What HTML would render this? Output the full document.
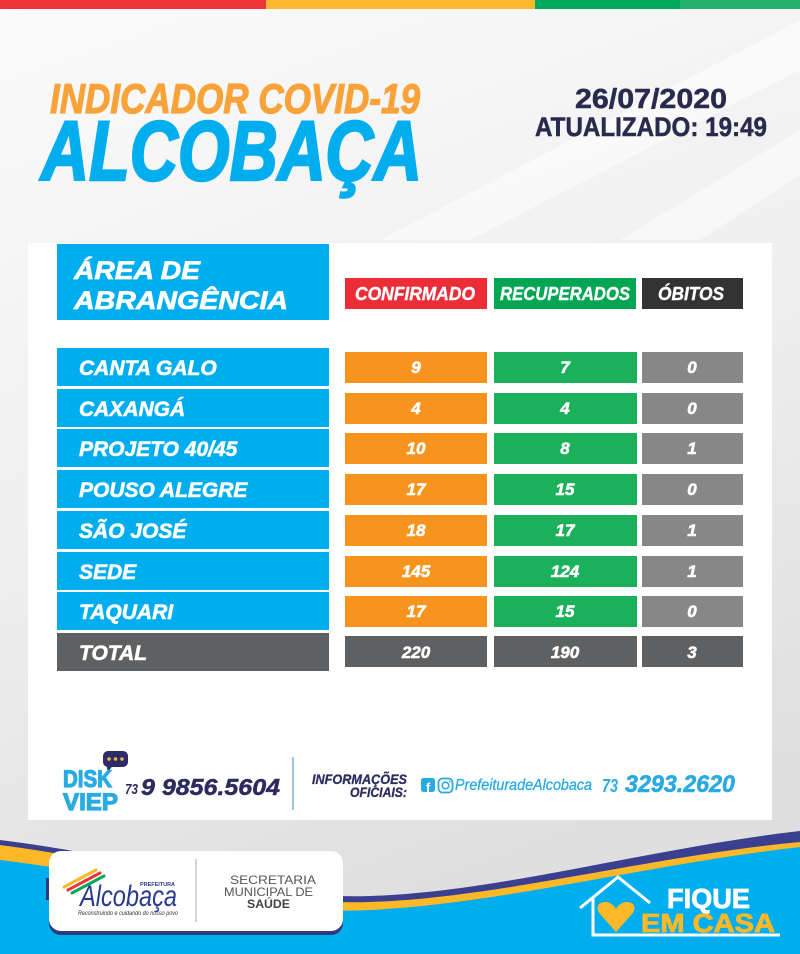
<!DOCTYPE html>
<html><head><meta charset="utf-8"><style>
html,body{margin:0;padding:0;background:#eee;}
svg{display:block;}
text{font-family:"Liberation Sans",Arial,sans-serif;}
</style></head><body>
<svg width="800" height="954" viewBox="0 0 800 954" xmlns="http://www.w3.org/2000/svg">
<defs>
<linearGradient id="bg" x1="0" y1="0" x2="0.3" y2="1">
<stop offset="0" stop-color="#fbfbfb"/><stop offset="0.5" stop-color="#f0f0f0"/><stop offset="1" stop-color="#e0dfdf"/>
</linearGradient>
</defs>
<rect x="0" y="0" width="800" height="954" fill="url(#bg)"/>
<polygon points="380,240 800,20 800,70 470,240" fill="#ffffff" opacity="0.5"/>
<polygon points="620,240 800,130 800,175 700,240" fill="#ffffff" opacity="0.5"/>
<!-- top stripes -->
<rect x="0" y="0" width="266" height="9" fill="#ee3438"/>
<rect x="266" y="0" width="269" height="9" fill="#fdb92e"/>
<rect x="535" y="0" width="265" height="9" fill="#00a859"/>
<rect x="680" y="0" width="120" height="9" fill="#26b070"/>
<!-- titles -->
<text x="50" y="113" font-size="42" font-weight="bold" font-style="italic" fill="#f8a33a" stroke="#f8a33a" stroke-width="1.2" textLength="370" lengthAdjust="spacingAndGlyphs">INDICADOR COVID-19</text>
<text x="41" y="180" font-size="84" font-weight="bold" font-style="italic" fill="#00aeef" stroke="#00aeef" stroke-width="2.5" textLength="381" lengthAdjust="spacingAndGlyphs">ALCOBAÇA</text>
<text x="575" y="108" font-size="28" font-weight="bold" fill="#2b2a4e" stroke="#2b2a4e" stroke-width="0.5" textLength="152" lengthAdjust="spacingAndGlyphs">26/07/2020</text>
<text x="535" y="136" font-size="27" font-weight="bold" fill="#2b2a4e" stroke="#2b2a4e" stroke-width="0.5" textLength="232" lengthAdjust="spacingAndGlyphs">ATUALIZADO: 19:49</text>
<!-- panel -->
<rect x="28" y="243" width="744" height="577" fill="#ffffff"/>
<!-- header -->
<rect x="57" y="244" width="272" height="76" fill="#00aeef"/>
<g stroke="#fff" stroke-width="0.7">
<text x="74" y="279" font-size="25" font-weight="bold" font-style="italic" fill="#fff" textLength="126" lengthAdjust="spacingAndGlyphs">ÁREA DE</text>
<text x="74" y="309" font-size="25" font-weight="bold" font-style="italic" fill="#fff" textLength="214" lengthAdjust="spacingAndGlyphs">ABRANGÊNCIA</text>
</g>
<rect x="345" y="278" width="142" height="31" fill="#ec2d38"/>
<rect x="494" y="278" width="142" height="31" fill="#00a651"/>
<rect x="642" y="278" width="101" height="31" fill="#333333"/>
<g stroke="#fff" stroke-width="0.4">
<text x="355" y="300" font-size="18" font-weight="bold" font-style="italic" fill="#fff" textLength="120" lengthAdjust="spacingAndGlyphs">CONFIRMADO</text>
<text x="500" y="300" font-size="18" font-weight="bold" font-style="italic" fill="#fff" textLength="130" lengthAdjust="spacingAndGlyphs">RECUPERADOS</text>
<text x="658" y="300" font-size="18" font-weight="bold" font-style="italic" fill="#fff" textLength="66" lengthAdjust="spacingAndGlyphs">ÓBITOS</text>
</g>
<!-- rows -->
<g font-weight="bold" font-style="italic" fill="#fff">
<rect x="57" y="348" width="272" height="38" fill="#00aeef"/>
<rect x="345" y="352" width="142" height="31" fill="#f7941e"/><rect x="494" y="352" width="143" height="31" fill="#1bb05a"/><rect x="642" y="352" width="101" height="31" fill="#878787"/>
<rect x="57" y="389" width="272" height="38" fill="#00aeef"/>
<rect x="345" y="393" width="142" height="31" fill="#f7941e"/><rect x="494" y="393" width="143" height="31" fill="#1bb05a"/><rect x="642" y="393" width="101" height="31" fill="#878787"/>
<rect x="57" y="429" width="272" height="38" fill="#00aeef"/>
<rect x="345" y="433" width="142" height="31" fill="#f7941e"/><rect x="494" y="433" width="143" height="31" fill="#1bb05a"/><rect x="642" y="433" width="101" height="31" fill="#878787"/>
<rect x="57" y="470" width="272" height="38" fill="#00aeef"/>
<rect x="345" y="474" width="142" height="31" fill="#f7941e"/><rect x="494" y="474" width="143" height="31" fill="#1bb05a"/><rect x="642" y="474" width="101" height="31" fill="#878787"/>
<rect x="57" y="511" width="272" height="38" fill="#00aeef"/>
<rect x="345" y="515" width="142" height="31" fill="#f7941e"/><rect x="494" y="515" width="143" height="31" fill="#1bb05a"/><rect x="642" y="515" width="101" height="31" fill="#878787"/>
<rect x="57" y="552" width="272" height="38" fill="#00aeef"/>
<rect x="345" y="556" width="142" height="31" fill="#f7941e"/><rect x="494" y="556" width="143" height="31" fill="#1bb05a"/><rect x="642" y="556" width="101" height="31" fill="#878787"/>
<rect x="57" y="592" width="272" height="38" fill="#00aeef"/>
<rect x="345" y="596" width="142" height="31" fill="#f7941e"/><rect x="494" y="596" width="143" height="31" fill="#1bb05a"/><rect x="642" y="596" width="101" height="31" fill="#878787"/>
<rect x="57" y="633" width="272" height="38" fill="#5f6062"/>
<rect x="345" y="636" width="142" height="31" fill="#5f6062"/><rect x="494" y="636" width="143" height="31" fill="#5f6062"/><rect x="642" y="636" width="101" height="31" fill="#5f6062"/>
</g>
<g font-weight="bold" font-style="italic" fill="#fff" stroke="#fff" stroke-width="0.6">
<text x="79" y="375" font-size="21">CANTA GALO</text>
<text x="416" y="373" font-size="17" text-anchor="middle">9</text><text x="565" y="373" font-size="17" text-anchor="middle">7</text><text x="692" y="373" font-size="17" text-anchor="middle">0</text>
<text x="79" y="416" font-size="21">CAXANGÁ</text>
<text x="416" y="414" font-size="17" text-anchor="middle">4</text><text x="565" y="414" font-size="17" text-anchor="middle">4</text><text x="692" y="414" font-size="17" text-anchor="middle">0</text>
<text x="79" y="456" font-size="21">PROJETO 40/45</text>
<text x="416" y="454" font-size="17" text-anchor="middle">10</text><text x="565" y="454" font-size="17" text-anchor="middle">8</text><text x="692" y="454" font-size="17" text-anchor="middle">1</text>
<text x="79" y="497" font-size="21">POUSO ALEGRE</text>
<text x="416" y="495" font-size="17" text-anchor="middle">17</text><text x="565" y="495" font-size="17" text-anchor="middle">15</text><text x="692" y="495" font-size="17" text-anchor="middle">0</text>
<text x="79" y="538" font-size="21">SÃO JOSÉ</text>
<text x="416" y="536" font-size="17" text-anchor="middle">18</text><text x="565" y="536" font-size="17" text-anchor="middle">17</text><text x="692" y="536" font-size="17" text-anchor="middle">1</text>
<text x="79" y="579" font-size="21">SEDE</text>
<text x="416" y="577" font-size="17" text-anchor="middle">145</text><text x="565" y="577" font-size="17" text-anchor="middle">124</text><text x="692" y="577" font-size="17" text-anchor="middle">1</text>
<text x="79" y="619" font-size="21">TAQUARI</text>
<text x="416" y="617" font-size="17" text-anchor="middle">17</text><text x="565" y="617" font-size="17" text-anchor="middle">15</text><text x="692" y="617" font-size="17" text-anchor="middle">0</text>
<text x="79" y="660" font-size="21">TOTAL</text>
<text x="416" y="658" font-size="17" text-anchor="middle">220</text><text x="565" y="658" font-size="17" text-anchor="middle">190</text><text x="692" y="658" font-size="17" text-anchor="middle">3</text>
</g>
<!-- footer info -->
<rect x="103" y="751" width="25" height="16" rx="5" fill="#2e2b6b"/>
<polygon points="106,764 114,764 108,772" fill="#2e2b6b"/>
<circle cx="109" cy="759" r="1.8" fill="#f9b52a"/><circle cx="115.5" cy="759" r="1.8" fill="#f9b52a"/><circle cx="122" cy="759" r="1.8" fill="#f9b52a"/>
<text x="63" y="787" font-size="24" font-weight="bold" fill="#29abe2" stroke="#29abe2" stroke-width="1.2" textLength="49" lengthAdjust="spacingAndGlyphs">DISK</text>
<text x="63" y="810" font-size="24" font-weight="bold" fill="#29abe2" stroke="#29abe2" stroke-width="1.2" textLength="55" lengthAdjust="spacingAndGlyphs">VIEP</text>
<text x="125" y="794" font-size="15" font-weight="bold" font-style="italic" fill="#2e2b5f" textLength="13" lengthAdjust="spacingAndGlyphs">73</text>
<text x="141" y="795" font-size="23" font-weight="bold" font-style="italic" fill="#2e2b5f" stroke="#2e2b5f" stroke-width="0.5" textLength="139" lengthAdjust="spacingAndGlyphs">9 9856.5604</text>
<line x1="293" y1="757" x2="293" y2="810" stroke="#7fb2d6" stroke-width="1.5"/>
<text x="312" y="784" font-size="14" font-weight="bold" font-style="italic" fill="#2e2b5f" stroke="#2e2b5f" stroke-width="0.3" textLength="95" lengthAdjust="spacingAndGlyphs">INFORMAÇÕES</text>
<text x="350" y="797" font-size="14" font-weight="bold" font-style="italic" fill="#2e2b5f" stroke="#2e2b5f" stroke-width="0.3" textLength="57" lengthAdjust="spacingAndGlyphs">OFICIAIS:</text>
<rect x="421" y="778" width="14" height="14" rx="2.5" fill="#29abe2"/>
<text x="426" y="792" font-size="13" font-weight="bold" fill="#fff">f</text>
<rect x="438.5" y="778.5" width="14" height="14" rx="4" fill="none" stroke="#29abe2" stroke-width="1.8"/>
<circle cx="445.5" cy="785.5" r="3.3" fill="none" stroke="#29abe2" stroke-width="1.6"/>
<circle cx="449.8" cy="781.5" r="0.9" fill="#29abe2"/>
<text x="455" y="790" font-size="16" font-style="italic" fill="#29abe2" stroke="#29abe2" stroke-width="0.3" textLength="137" lengthAdjust="spacingAndGlyphs">PrefeituradeAlcobaca</text>
<text x="602" y="792" font-size="18" font-weight="bold" font-style="italic" fill="#29abe2" textLength="16" lengthAdjust="spacingAndGlyphs">73</text>
<text x="625" y="792" font-size="24" font-weight="bold" font-style="italic" fill="#29abe2" stroke="#29abe2" stroke-width="0.6" textLength="110" lengthAdjust="spacingAndGlyphs">3293.2620</text>
<!-- bottom waves -->
<path d="M0,840 C150,858 250,900 370,896 C500,892 650,848 800,831 L800,954 L0,954 Z" fill="#3b3f8f"/>
<path d="M0,845 C150,864 250,906 370,902 C500,898 650,856 800,842 L800,954 L0,954 Z" fill="#fdb827"/>
<path d="M0,860 C150,878 260,916 370,910 C500,904 650,864 800,847 L800,954 L0,954 Z" fill="#00aeef"/>
<!-- logo card -->
<rect x="46" y="878" width="5" height="22" fill="#2e3a7c"/>
<rect x="338" y="878" width="5" height="22" fill="#2e3a7c"/>
<rect x="49" y="855" width="294" height="80" rx="12" fill="#2e3a7c"/>
<rect x="49" y="851" width="294" height="80" rx="12" fill="#ffffff"/>
<line x1="196" y1="859" x2="196" y2="922" stroke="#aaaaaa" stroke-width="1"/>
<text x="230" y="884" font-size="12" fill="#555" textLength="86" lengthAdjust="spacingAndGlyphs">SECRETARIA</text>
<text x="224" y="896" font-size="12" fill="#555" textLength="89" lengthAdjust="spacingAndGlyphs">MUNICIPAL DE</text>
<text x="247" y="908" font-size="12" font-weight="bold" fill="#444" textLength="43" lengthAdjust="spacingAndGlyphs">SAÚDE</text>
<g stroke-width="3" stroke-linecap="round">
<line x1="64" y1="887" x2="96" y2="870" stroke="#fdb827"/>
<line x1="68" y1="890" x2="100" y2="873" stroke="#ee3438"/>
<line x1="72" y1="893" x2="104" y2="876" stroke="#00a859"/>
</g>
<text x="80" y="906" font-size="30" font-style="italic" fill="#2b3990" textLength="97" lengthAdjust="spacingAndGlyphs">Alcobaça</text>
<text x="140" y="886" font-size="5" font-weight="bold" fill="#2b3990" textLength="35" lengthAdjust="spacingAndGlyphs">PREFEITURA</text>
<text x="78" y="915" font-size="6" font-style="italic" fill="#333" textLength="100" lengthAdjust="spacingAndGlyphs">Reconstruindo e cuidando do nosso povo</text>
<!-- fique em casa -->
<polyline points="580,908 618,877 650,903" fill="none" stroke="#fff" stroke-width="3"/>
<polyline points="593,898 593,935 780,935" fill="none" stroke="#fff" stroke-width="3"/>
<path d="M616,932 L600,914 C595,908 598,902 605,902 C610,902 614,905 616,909 C618,905 622,902 627,902 C634,902 637,908 632,914 Z" fill="#fbb829"/>
<text x="667" y="908" font-size="28" font-weight="bold" fill="#fff" stroke="#fff" stroke-width="0.8" textLength="83" lengthAdjust="spacingAndGlyphs">FIQUE</text>
<text x="641" y="932" font-size="26" font-weight="bold" fill="#fbb829" stroke="#fbb829" stroke-width="0.8" textLength="134" lengthAdjust="spacingAndGlyphs">EM CASA</text>
</svg>
</body></html>
